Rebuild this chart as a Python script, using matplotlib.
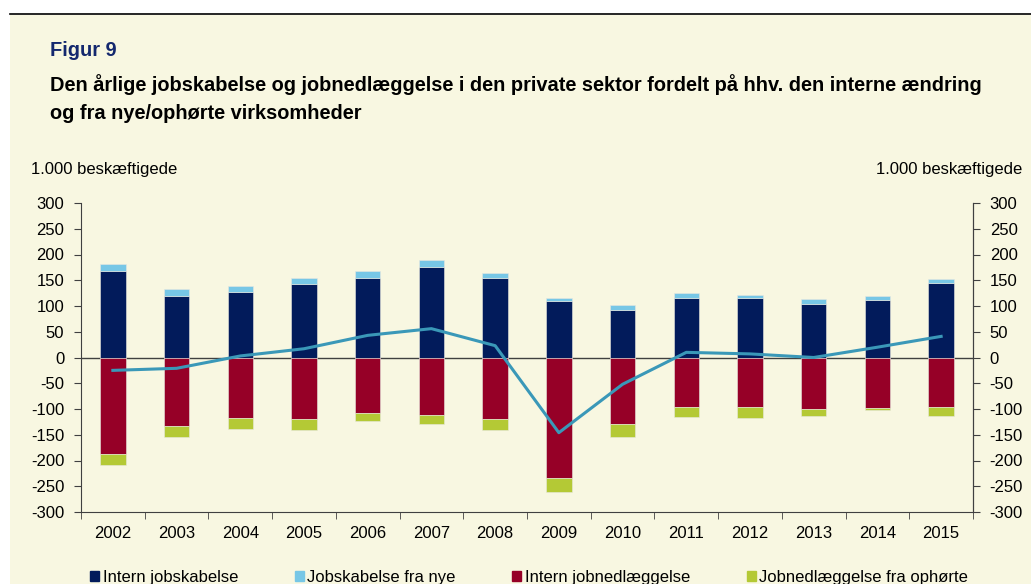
import numpy as np
import matplotlib
matplotlib.use("Agg")
import matplotlib.pyplot as plt
from matplotlib.patches import Patch, Rectangle
from matplotlib.lines import Line2D
from matplotlib.ticker import FuncFormatter

plt.rcParams['font.family'] = ['Liberation Sans', 'DejaVu Sans']

years = ['2002', '2003', '2004', '2005', '2006', '2007', '2008',
         '2009', '2010', '2011', '2012', '2013', '2014', '2015']
intern_skab = [168, 119, 128, 142, 154, 175, 154, 109, 93, 115, 115, 103, 111, 144]
nye_skab = [13, 14, 11, 13, 14, 14, 10, 7, 8, 11, 7, 10, 9, 9]
intern_nedl = [-188, -133, -118, -120, -107, -112, -120, -234, -129, -96, -96, -100, -98, -96]
ophoert_nedl = [-20, -22, -21, -20, -17, -18, -20, -27, -26, -20, -22, -14, -4, -17]
netto = [-25, -21, 3, 17, 43, 56, 23, -146, -52, 10, 7, 0, 20, 41]

labels = ['Intern jobskabelse', 'Jobskabelse fra nye',
          'Intern jobnedlæggelse', 'Jobnedlæggelse fra ophørte']
c_navy = '#021B5B'
c_light = '#77C7E6'
c_red = '#960027'
c_green = '#B4C935'
c_line = '#3A98B8'
bg = '#F8F7E1'
fs = 12

W, H = 1031, 584
fig = plt.figure(figsize=(W / 100, H / 100), dpi=100, facecolor='white')
fig.patches.append(Rectangle((10 / W, 0), 1 - 10 / W, 1 - 15 / H, transform=fig.transFigure,
                             facecolor=bg, edgecolor='none', zorder=-10))
fig.lines.append(Line2D([10 / W, 1], [1 - 14 / H, 1 - 14 / H], transform=fig.transFigure,
                        color='black', lw=1.2))

fig.text(50 / W, 1 - 51 / H, 'Figur 9', color='#14286E', fontsize=14.4, fontweight='bold', va='center')
fig.text(50 / W, 1 - 85 / H,
         'Den årlige jobskabelse og jobnedlæggelse i den private sektor fordelt på hhv. den interne ændring',
         fontsize=14.4, fontweight='bold', va='center')
fig.text(50 / W, 1 - 113 / H, 'og fra nye/ophørte virksomheder',
         fontsize=14.4, fontweight='bold', va='center')

ax = fig.add_axes([81 / W, 1 - 512 / H, (973 - 81) / W, (512 - 203) / H])
ax.set_facecolor('none')
x = np.arange(len(years))
bw = 0.4
ax.axhline(0, color='#404040', lw=1, zorder=1)
ax.bar(x, intern_skab, bw, color=c_navy, edgecolor='#E8E8E0', linewidth=0.4, zorder=2)
ax.bar(x, nye_skab, bw, bottom=intern_skab, color=c_light, edgecolor='#E8E8E0', linewidth=0.4, zorder=2)
ax.bar(x, intern_nedl, bw, color=c_red, edgecolor='#E8E8E0', linewidth=0.4, zorder=2)
ax.bar(x, ophoert_nedl, bw, bottom=intern_nedl, color=c_green, edgecolor='#E8E8E0', linewidth=0.4, zorder=2)
ax.plot(x, netto, color=c_line, lw=2.2, zorder=3)

hyph = FuncFormatter(lambda v, p: '%d' % v)
ax.set_xlim(-0.5, len(years) - 0.5)
ax.set_ylim(-300, 300)
ax.set_yticks(np.arange(-300, 301, 50))
ax.yaxis.set_major_formatter(hyph)
ax.set_xticks(x)
ax.set_xticklabels(years)
ax.set_xticks(np.arange(-0.5, len(years), 1), minor=True)
ax.tick_params(axis='x', which='major', length=0, pad=10, labelsize=fs)
ax.tick_params(axis='x', which='minor', length=5, direction='out', color='#404040')
ax.tick_params(axis='y', length=5, direction='out', pad=7, labelsize=fs, color='#404040')
for s in ['left', 'right', 'bottom']:
    ax.spines[s].set_color('#404040')
ax.spines['top'].set_visible(False)

ax2 = ax.twinx()
ax2.set_ylim(-300, 300)
ax2.set_yticks(np.arange(-300, 301, 50))
ax2.yaxis.set_major_formatter(hyph)
ax2.tick_params(axis='y', length=5, direction='out', pad=7, labelsize=fs, color='#404040')
ax2.spines['right'].set_color('#404040')
ax2.spines['top'].set_visible(False)
ax2.spines['left'].set_visible(False)
ax2.spines['bottom'].set_visible(False)

fig.text(31 / W, 1 - 170 / H, '1.000 beskæftigede', fontsize=fs, va='center', ha='left')
fig.text(1022 / W, 1 - 170 / H, '1.000 beskæftigede', fontsize=fs, va='center', ha='right')

handles = [Patch(color=c) for c in [c_navy, c_light, c_red, c_green]]
fig.legend(handles, labels, ncol=4, loc='upper left', bbox_to_anchor=(90 / W, 1 - 570 / H),
           frameon=False, fontsize=fs, handlelength=0.55, handleheight=0.55,
           handletextpad=0.2, columnspacing=3.4, borderpad=0, borderaxespad=0)

plt.savefig('out.png', dpi=100, facecolor='white')
